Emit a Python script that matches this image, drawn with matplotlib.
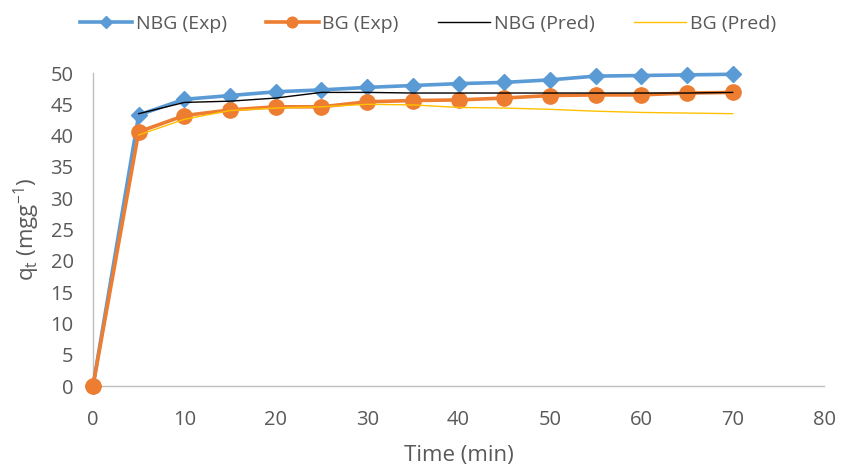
import matplotlib
matplotlib.use("Agg")
import matplotlib.pyplot as plt

time_exp = [0, 5, 10, 15, 20, 25, 30, 35, 40, 45, 50, 55, 60, 65, 70]
nbg_exp = [0, 43.3, 45.8, 46.4, 47.0, 47.3, 47.7, 48.0, 48.3, 48.5, 48.9, 49.5, 49.6, 49.7, 49.8]
bg_exp = [0, 40.6, 43.2, 44.1, 44.6, 44.6, 45.4, 45.6, 45.7, 46.0, 46.4, 46.5, 46.5, 46.8, 46.9]

time_pred = [5, 10, 15, 20, 25, 30, 35, 40, 45, 50, 55, 60, 65, 70]
nbg_pred = [43.5, 45.3, 45.5, 46.0, 46.9, 46.9, 46.8, 46.8, 46.8, 46.8, 46.8, 46.8, 46.8, 46.9]
bg_pred = [40.1, 42.6, 44.0, 44.4, 44.6, 45.0, 44.9, 44.5, 44.4, 44.2, 43.9, 43.7, 43.6, 43.5]

xticks = [0, 10, 20, 30, 40, 50, 60, 70, 80]
yticks = [0, 5, 10, 15, 20, 25, 30, 35, 40, 45, 50]

plt.rcParams['font.family'] = ['Open Sans', 'DejaVu Sans']
grey = '#595959'

fig = plt.figure(figsize=(8.43, 4.67), dpi=100)
ax = fig.add_axes([93/843, 1-386/467, (824-93)/843, (386-73)/467])

l1, = ax.plot(time_exp, nbg_exp, color='#5B9BD5', lw=2.6, marker='D', ms=8.5,
              label='NBG (Exp)', zorder=3)
l2, = ax.plot(time_exp, bg_exp, color='#ED7D31', lw=2.6, marker='o', ms=11,
              label='BG (Exp)', zorder=4)
l3, = ax.plot(time_pred, nbg_pred, color='#000000', lw=1.0, label='NBG (Pred)', zorder=5)
l4, = ax.plot(time_pred, bg_pred, color='#FFC000', lw=1.0, label='BG (Pred)', zorder=5)

ax.set_xlim(0, 80)
ax.set_ylim(0, 50)
ax.set_xticks(xticks)
ax.set_yticks(yticks)
ax.tick_params(axis='x', length=0, labelsize=14.5, colors=grey, pad=17)
ax.tick_params(axis='y', length=0, labelsize=14.5, colors=grey, pad=14)
for s in ['top', 'right']:
    ax.spines[s].set_visible(False)
for s in ['left', 'bottom']:
    ax.spines[s].set_color('#BFBFBF')
    ax.spines[s].set_linewidth(1.0)
for ln in (l1, l2, l3, l4):
    ln.set_clip_on(False)

ax.set_xlabel('Time (min)', fontsize=16, color=grey, labelpad=11)
ax.set_ylabel(r'q$_\mathregular{t}$ (mgg$^\mathregular{-1}$)', fontsize=16, color=grey, labelpad=6)

leg = fig.legend(handles=[l1, l2, l3, l4], loc='center left',
                 bbox_to_anchor=(72/843, 1-24/467), ncol=4, frameon=False,
                 fontsize=14, handlelength=2.7, handletextpad=0.2,
                 columnspacing=2.0, markerscale=0.7, borderaxespad=0)
for t in leg.get_texts():
    t.set_color(grey)

fig.savefig('out.png', dpi=100)
